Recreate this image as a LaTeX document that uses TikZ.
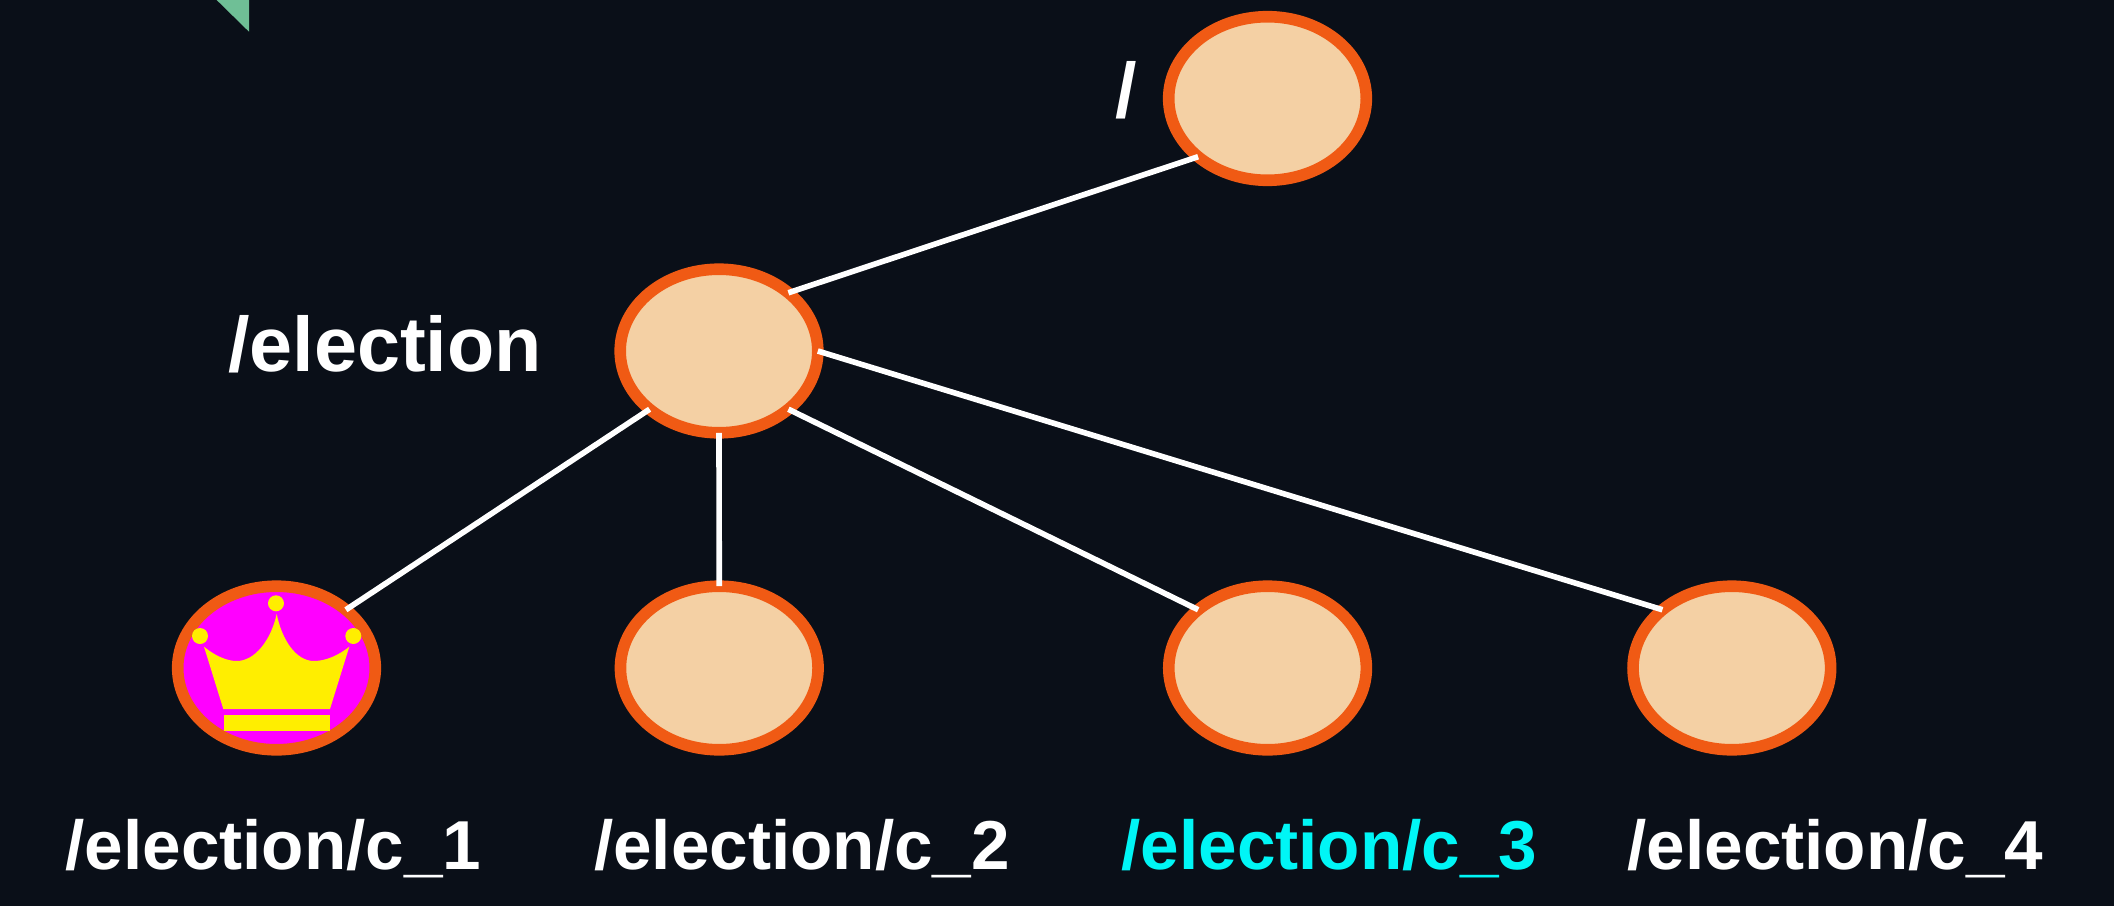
\documentclass[tikz,border=0pt]{standalone}
\usepackage{fontspec}
\setmainfont{Liberation Sans}
\usetikzlibrary{shapes.geometric,positioning}
\definecolor{slidebg}{HTML}{0A0F18}
\definecolor{ringcol}{HTML}{F05A14}
\definecolor{znodecol}{HTML}{F4D0A4}
\definecolor{tabcol}{HTML}{6FBF96}
\definecolor{crowncol}{HTML}{FFEE00}
\definecolor{leadercol}{HTML}{FF00FF}
\definecolor{watchcol}{HTML}{00F6F6}
\tikzset{
  znode/.style={ellipse,draw=ringcol,line width=3.3pt,fill=znodecol,
    minimum width=1.975cm,minimum height=1.635cm,inner sep=0pt,outer sep=0pt},
  wire/.style={draw=white,line width=1.6pt},
  pathname/.style={text=white,font=\bfseries\fontsize{19.7}{23}\selectfont,anchor=base,inner sep=0pt},
  bigname/.style={pathname,font=\bfseries\fontsize{22}{26}\selectfont}
}
\begin{document}
\begin{tikzpicture}[x=0.01cm,y=-0.01cm,on grid]
   \fill[slidebg] (0,0) rectangle (2114,906);
   \useasboundingbox (0,0) rectangle (2114,906);
   \fill[tabcol] (216.7,0) -- (249,0) -- (249,31.7) -- cycle;
   % tree
   \node [znode] (root) at (1267.5,98.5) {};
   \node [znode] (election) at (719,351) {};
   \node [znode,fill=leadercol] (c_1) at (276.5,668) {};
   \node [znode] (c_2) [right=4.425cm of c_1] {};
   \node [znode] (c_3) [right=5.48cm of c_2] {};
   \node [znode] (c_4) [right=4.64cm of c_3] {};
   \path[wire]
   (root.220) edge (election.40)
   (election.220) edge (c_1.40)
   (election.270) edge (c_2.90)
   (election.320) edge (c_3.140)
   (election.0) edge (c_4.140);
   % crown
   \fill[crowncol] (204,646.7) .. controls (214,655) and (226,661) .. (236.7,661)
     .. controls (255,661) and (271,640) .. (276.7,614)
     .. controls (282,640) and (296,661) .. (314,661)
     .. controls (326,661) and (339,655) .. (349.3,646.7)
     -- (330,709) -- (223.3,709) -- cycle;
   \fill[crowncol] (224,715) rectangle (330,730.7);
   \fill[crowncol] (276,603.3) circle (8);
   \fill[crowncol] (200,636) circle (8);
   \fill[crowncol] (353.3,636) circle (8);
   % names
   \node [bigname] (rootname) at (1126,117) {/};
   \node [bigname] (electionname) at (385,371) {/election};
   \node [pathname] (c_1name) at (273.5,869) {/election/c\_1};
   \node [pathname] (c_2name) at (802,869) {/election/c\_2};
   \node [pathname,text=watchcol] (c_3name) at (1329.5,869) {/election/c\_3};
   \node [pathname] (c_4name) at (1835.5,869) {/election/c\_4};
\end{tikzpicture}
\end{document}
